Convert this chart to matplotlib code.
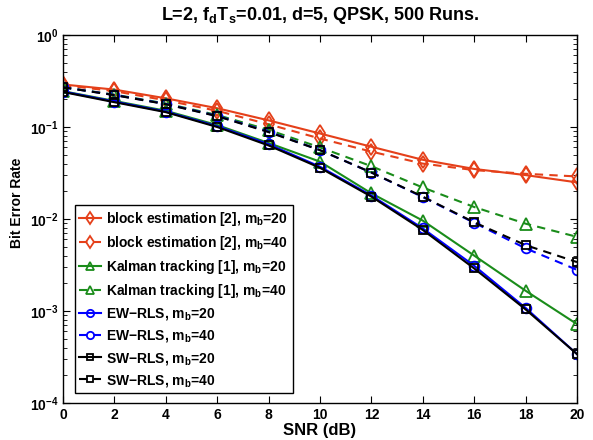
import matplotlib
matplotlib.use("Agg")
import matplotlib.pyplot as plt
import numpy as np
from matplotlib.ticker import LogLocator, NullFormatter

plt.rcParams['font.family'] = ['Liberation Sans', 'DejaVu Sans']
plt.rcParams['font.weight'] = 'bold'
plt.rcParams['mathtext.fontset'] = 'custom'
plt.rcParams['mathtext.rm'] = 'Liberation Sans:bold'
plt.rcParams['mathtext.bf'] = 'Liberation Sans:bold'
plt.rcParams['mathtext.it'] = 'Liberation Sans:bold'
plt.rcParams['mathtext.default'] = 'bf'

snr = [0, 2, 4, 6, 8, 10, 12, 14, 16, 18, 20]

block_20 = [0.29, 0.255, 0.205, 0.16, 0.118, 0.085, 0.061, 0.044, 0.035, 0.030, 0.025]
block_40 = [0.285, 0.245, 0.195, 0.15, 0.107, 0.075, 0.054, 0.040, 0.034, 0.031, 0.029]
kalman_20 = [0.245, 0.192, 0.15, 0.105, 0.067, 0.042, 0.019, 0.0096, 0.0040, 0.00166, 0.00072]
kalman_40 = [0.27, 0.225, 0.18, 0.135, 0.093, 0.060, 0.0375, 0.022, 0.0135, 0.0089, 0.0064]
ewrls_20 = [0.243, 0.189, 0.147, 0.102, 0.065, 0.037, 0.018, 0.0079, 0.0031, 0.00108, 0.00034]
ewrls_40 = [0.27, 0.223, 0.178, 0.132, 0.089, 0.056, 0.032, 0.0173, 0.0091, 0.0048, 0.0028]
swrls_20 = [0.24, 0.186, 0.145, 0.100, 0.063, 0.036, 0.0175, 0.0076, 0.0029, 0.00104, 0.00034]
swrls_40 = [0.27, 0.222, 0.177, 0.131, 0.088, 0.056, 0.032, 0.0175, 0.0092, 0.0052, 0.0034]

labels = ['block estimation [2], $\\mathbf{m_b}$=20',
          'block estimation [2], $\\mathbf{m_b}$=40',
          'Kalman tracking [1], $\\mathbf{m_b}$=20',
          'Kalman tracking [1], $\\mathbf{m_b}$=40',
          'EW\u2212RLS, $\\mathbf{m_b}$=20',
          'EW\u2212RLS, $\\mathbf{m_b}$=40',
          'SW\u2212RLS, $\\mathbf{m_b}$=20',
          'SW\u2212RLS, $\\mathbf{m_b}$=40']

red = '#E5401A'
green = '#1A8C1A'
blue = '#0000FF'
black = '#000000'

series = [
    (block_20, red, '-', 'd', 8),
    (block_40, red, '--', 'd', 8),
    (kalman_20, green, '-', '^', 8),
    (kalman_40, green, '--', '^', 8),
    (ewrls_20, blue, '-', 'o', 7),
    (ewrls_40, blue, '--', 'o', 7),
    (swrls_20, black, '-', 's', 6),
    (swrls_40, black, '--', 's', 6),
]

fig = plt.figure(figsize=(5.93, 4.40), dpi=100)
ax = fig.add_axes([63/593, 1-403/440, (577-63)/593, (403-35)/440])

for (vals, c, ls, m, ms), lab in zip(series, labels):
    ax.semilogy(snr, vals, color=c, linestyle=ls, marker=m, markersize=ms,
                markerfacecolor='none', markeredgecolor=c, markeredgewidth=1.3,
                linewidth=1.5, label=lab, dashes=(4, 3) if ls == '--' else (None, None))

ax.set_xlim(0, 20)
ax.set_ylim(1e-4, 1)
ax.set_xticks(snr)
ax.yaxis.set_major_locator(LogLocator(base=10, numticks=10))
ax.yaxis.set_minor_locator(LogLocator(base=10, subs=np.arange(2, 10), numticks=50))
ax.yaxis.set_minor_formatter(NullFormatter())
ax.tick_params(which='both', direction='in', top=True, right=True, labelsize=10)
ax.tick_params(which='major', length=5)
ax.tick_params(which='minor', length=3)
for s in ax.spines.values():
    s.set_linewidth(1.0)

ax.set_xlabel('SNR (dB)', fontsize=12, fontweight='bold', labelpad=1)
ax.set_ylabel('Bit Error Rate', fontsize=10, fontweight='bold')
ax.yaxis.set_label_coords(-0.076, 0.545)
ax.set_title('L=2, $\\mathbf{f_d T_s}$=0.01, d=5, QPSK, 500 Runs.', fontsize=13,
             fontweight='bold', pad=11)

leg = ax.legend(loc='lower left', bbox_to_anchor=(0.023, 0.027), borderaxespad=0,
                fontsize=10, numpoints=1, handlelength=1.6, handletextpad=0.35,
                labelspacing=0.44, borderpad=0.32, frameon=True, fancybox=False,
                edgecolor='black', framealpha=1, markerscale=0.75)
leg.get_frame().set_linewidth(1.0)
for t in leg.get_texts():
    t.set_fontweight('bold')

fig.savefig('out.png', dpi=100)
